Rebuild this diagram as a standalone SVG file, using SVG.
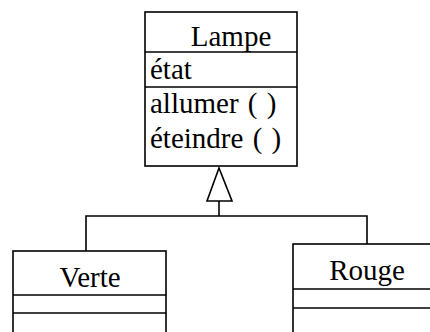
<svg xmlns="http://www.w3.org/2000/svg" width="430" height="332" viewBox="0 0 430 332">
<style>
.box{fill:#fff;stroke:#000;stroke-width:1.6}
.sep{stroke:#000;stroke-width:1.6}
text{font-family:'Liberation Serif','Times New Roman','DejaVu Serif',serif;font-size:29px;fill:#000}
.c{text-anchor:middle}
.m{word-spacing:2px}
.conn{fill:none;stroke:#000;stroke-width:1.6}
</style>
<rect width="430" height="332" fill="#fff"/>
<g id="connectors">
<polygon class="conn" points="219,168 207,201 232,201" fill="#fff"/>
<line class="conn" x1="219" y1="201" x2="219" y2="216"/>
<polyline class="conn" points="86,251 86,216 367,216 367,244"/>
</g>
<g id="lampe">
<rect class="box" x="145" y="12" width="152" height="154"/>
<line class="sep" x1="145" y1="52" x2="297" y2="52"/>
<line class="sep" x1="145" y1="87" x2="297" y2="87"/>
<text class="c" x="231" y="46">Lampe</text>
<text x="150" y="79">état</text>
<text class="m" x="150" y="113">allumer ( )</text>
<text class="m" x="150" y="148">éteindre ( )</text>
</g>
<g id="verte">
<rect class="box" x="13" y="251" width="153" height="100"/>
<line class="sep" x1="13" y1="295" x2="166" y2="295"/>
<line class="sep" x1="13" y1="313" x2="166" y2="313"/>
<text class="c" x="90" y="287">Verte</text>
</g>
<g id="rouge">
<rect class="box" x="293" y="244" width="160" height="100"/>
<line class="sep" x1="293" y1="289" x2="430" y2="289"/>
<line class="sep" x1="293" y1="308" x2="430" y2="308"/>
<text class="c" x="367" y="280">Rouge</text>
</g>
</svg>
